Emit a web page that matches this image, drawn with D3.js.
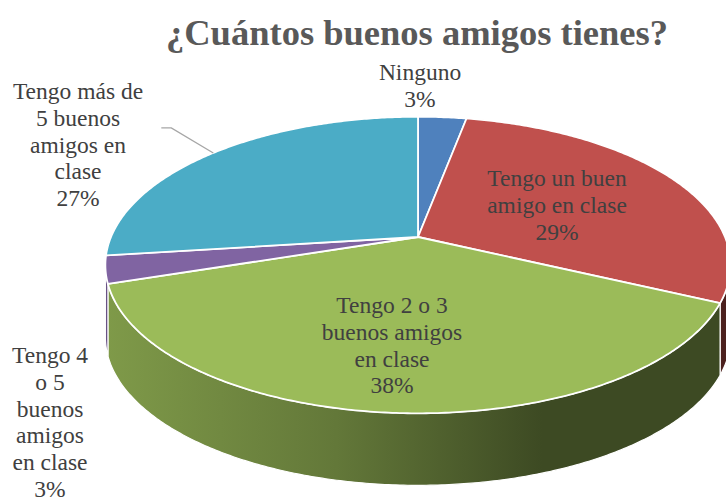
<!DOCTYPE html>
<html>
<head>
<meta charset="utf-8">
<script src="https://cdn.jsdelivr.net/npm/d3@7"></script>
</head>
<body style="margin:0">
<svg id="chart" width="726" height="503"></svg>
<script>
// Data
const categories = [
  "Ninguno",
  "Tengo un buen amigo en clase",
  "Tengo 2 o 3 buenos amigos en clase",
  "Tengo 4 o 5 buenos amigos en clase",
  "Tengo más de 5 buenos amigos en clase"
];
const values = [3, 29, 38, 3, 27];
const labelLines = [
  ["Ninguno", "3%"],
  ["Tengo un buen", "amigo en clase", "29%"],
  ["Tengo 2 o 3", "buenos amigos", "en clase", "38%"],
  ["Tengo 4", "o 5", "buenos", "amigos", "en clase", "3%"],
  ["Tengo más de", "5 buenos", "amigos en", "clase", "27%"]
];
const colors = ["#4F81BD", "#C0504D", "#9BBB59", "#8064A2", "#4BACC6"];

// Layout
const cx = 418, cy = 237;      // apex of the pie (centre of circle)
const rx = 307, ry = 143;      // projected radii
const persp = 0.189;           // perspective strength
const depth = 72;              // thickness of the pie
const labelPos = [[420, 80], [557, 186], [392, 313], [50, 363], [78, 99]];

const svg = d3.select("#chart");

// project a point on the circle (angle a, radius fraction r) to screen
function proj(a, r, dy) {
  const X = r * Math.sin(a), Z = r * Math.cos(a);
  const k = 1 + persp * Z;
  return [cx + rx * X / k, cy + (dy || 0) - ry * Z / k];
}

const pie = d3.pie().sort(null).value(d => d);
const arcs = pie(values);

function sampleAngles(a0, a1) {
  const n = Math.max(2, Math.ceil((a1 - a0) / 0.01));
  return d3.range(n + 1).map(i => a0 + (a1 - a0) * i / n);
}

const line = d3.line();

// gradients for side walls
const defs = svg.append("defs");
colors.forEach((c, i) => {
  const g = defs.append("linearGradient")
    .attr("id", "side" + i)
    .attr("gradientUnits", "userSpaceOnUse")
    .attr("x1", 105).attr("x2", 730).attr("y1", 0).attr("y2", 0);
  [[0, 0.55], [0.37, 1.25], [0.7, 2.6], [1, 2.6]].forEach(s => {
    g.append("stop").attr("offset", s[0]).attr("stop-color", d3.color(c).darker(s[1]));
  });
});

// Visible front wall: between the two silhouette angles
const aL = Math.acos(-persp), aR = 2 * Math.PI - aL;

const sides = svg.append("g");
arcs.forEach((d, i) => {
  const a0 = Math.max(d.startAngle, aL), a1 = Math.min(d.endAngle, aR);
  if (a1 <= a0) return;
  const angs = sampleAngles(a0, a1);
  const top = angs.map(a => proj(a, 1, 0));
  const bot = angs.slice().reverse().map(a => proj(a, 1, depth));
  sides.append("path")
    .attr("d", line(top.concat(bot)) + "Z")
    .attr("fill", `url(#side${i})`)
    .attr("stroke", "#fff")
    .attr("stroke-width", 1.2)
    .attr("stroke-linejoin", "round");
});

// Top faces
const tops = svg.append("g");
arcs.forEach((d, i) => {
  const pts = [[cx, cy]].concat(sampleAngles(d.startAngle, d.endAngle).map(a => proj(a, 1, 0)));
  tops.append("path")
    .attr("d", line(pts) + "Z")
    .attr("fill", colors[i])
    .attr("stroke", "#fff")
    .attr("stroke-width", 1.8)
    .attr("stroke-linejoin", "round");
});

// Leader line for the last slice
const cyanArc = arcs[4];
const lp = proj((cyanArc.startAngle + cyanArc.endAngle) / 2, 1, 0);
svg.append("path")
  .attr("d", line([lp, [lp[0] - 42, lp[1] - 25], [lp[0] - 52, lp[1] - 25]]))
  .attr("fill", "none")
  .attr("stroke", "#a6a6a6")
  .attr("stroke-width", 1.3);

// Labels
labelLines.forEach((lines, i) => {
  lines.forEach((s, j) => {
    svg.append("text")
      .attr("x", labelPos[i][0])
      .attr("y", labelPos[i][1] + j * 26.8)
      .attr("text-anchor", "middle")
      .attr("fill", "#404040")
      .style("font-family", '"Liberation Serif"')
      .style("font-size", "23.5px")
      .text(s);
  });
});

// Title
svg.append("text")
  .attr("x", 417)
  .attr("y", 45)
  .attr("text-anchor", "middle")
  .attr("fill", "#595959")
  .style("font-family", '"Liberation Serif"')
  .style("font-weight", "bold")
  .style("font-size", "36.5px")
  .text("¿Cuántos buenos amigos tienes?");
</script>
</body>
</html>
